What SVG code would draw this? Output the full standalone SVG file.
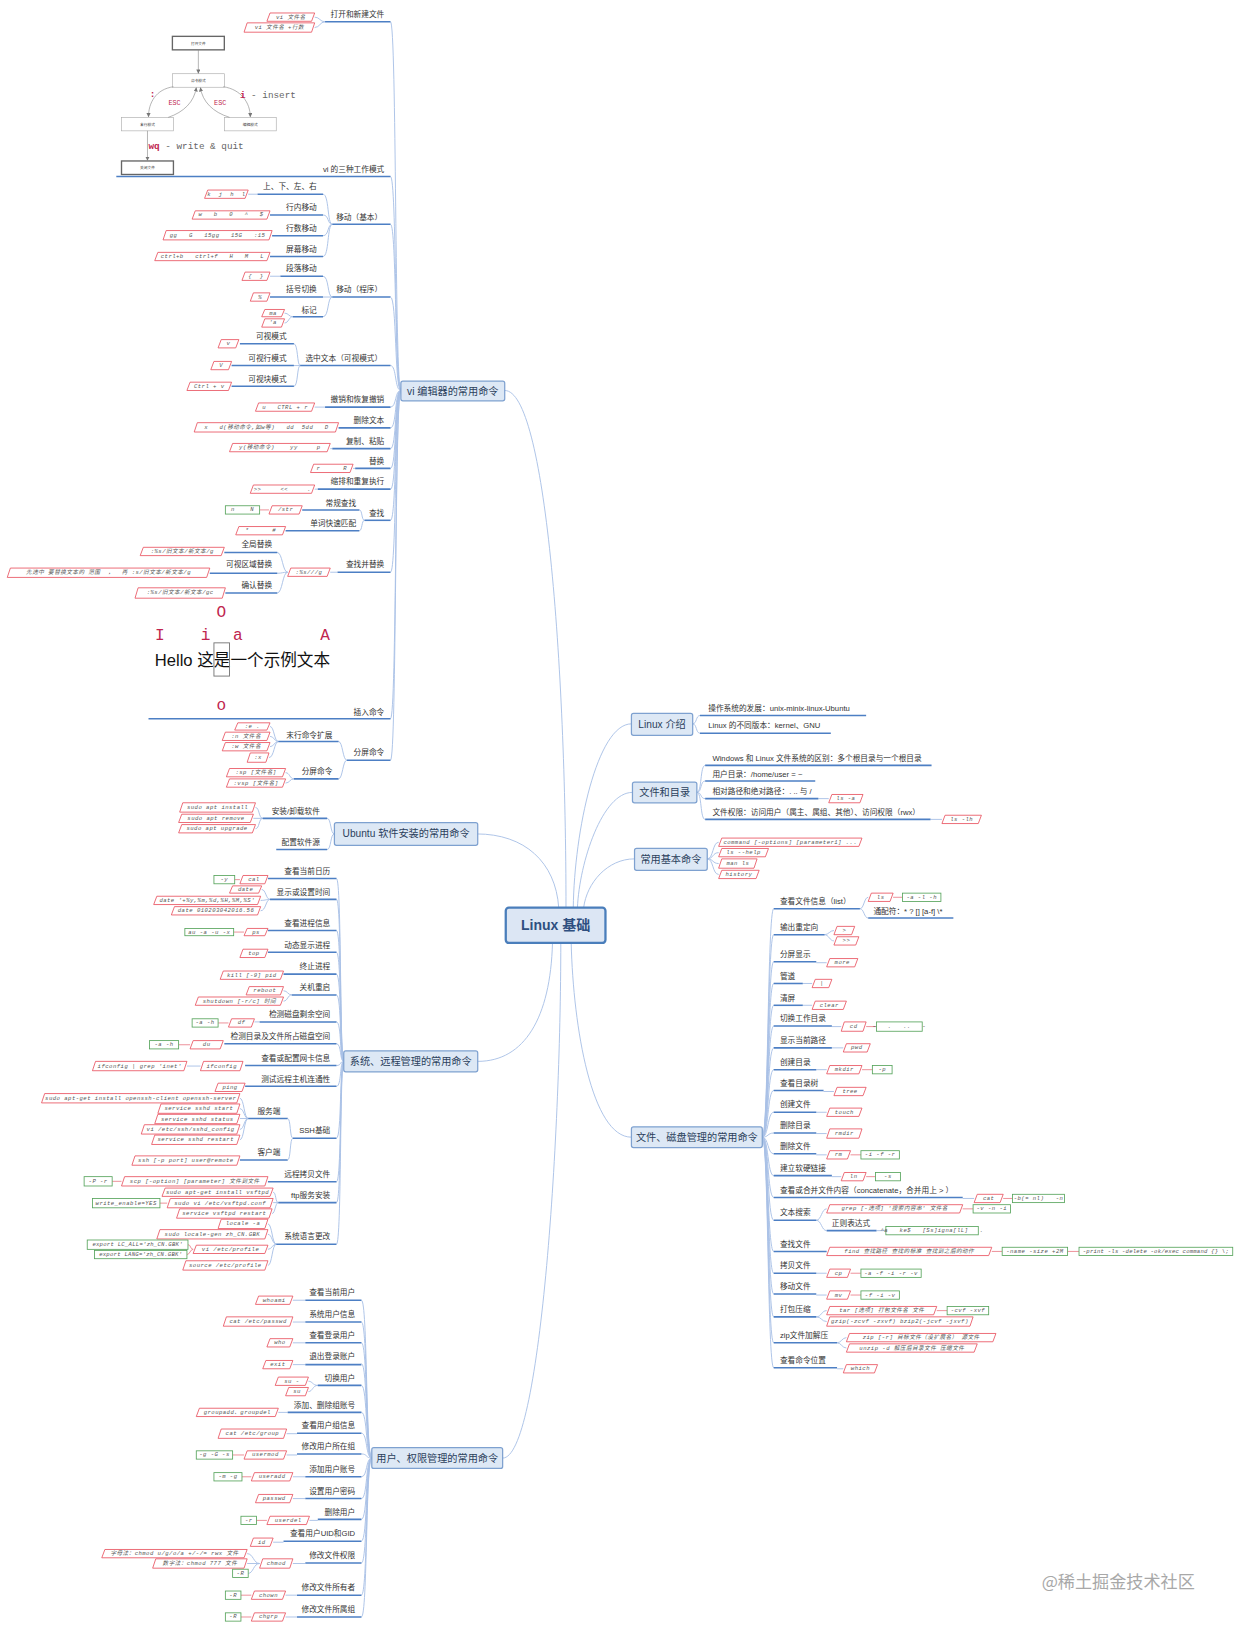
<svg xmlns="http://www.w3.org/2000/svg" width="1240" height="1629" viewBox="0 0 1240 1629" xml:space="preserve">
<defs>
<marker id="ah" markerWidth="4" markerHeight="4" refX="3.6" refY="2" orient="auto" markerUnits="userSpaceOnUse"><path d="M0,0 L4,2 L0,4 z" fill="#777"/></marker>
<style>
text{dominant-baseline:central}
.u{stroke:#4d7fc4;stroke-width:1.5;fill:none}
.c{stroke:#a9c1e6;stroke-width:0.9;fill:none}
.cr{stroke:#e97b86;stroke-width:0.8;fill:none}
.t{font-family:"Liberation Sans","Noto Sans CJK SC",sans-serif;font-size:7.4px;fill:#333}
.e{text-anchor:end}
.r{fill:#fff;stroke:#e8505d;stroke-width:0.8}
.g{fill:#fff;stroke:#55a35a;stroke-width:0.8}
.m{font-family:"Liberation Mono","Noto Sans CJK SC",monospace;font-style:italic;font-size:5.4px;letter-spacing:0.45px;fill:#555;text-anchor:middle;white-space:pre}
.b1{fill:#dde8f5;stroke:#7ea1d0;stroke-width:1.2}
.t1{font-family:"Liberation Sans","Noto Sans CJK SC",sans-serif;font-size:9.8px;fill:#2b3f5c;text-anchor:middle}
.mb{fill:#fff;stroke:#aaa;stroke-width:0.6}
.mbk{fill:#fff;stroke:#666;stroke-width:1.3}
.mt{font-family:"Noto Sans CJK SC",sans-serif;font-size:3.6px;fill:#333;text-anchor:middle}
.ma{stroke:#888;stroke-width:0.6;fill:none;marker-end:url(#ah)}
.cr1{font-family:"Liberation Mono",monospace;fill:#c0254f}
.gy{font-family:"Liberation Mono",monospace;fill:#666}
</style>
</defs>
<rect width="1240" height="1629" fill="#fff"/>
<g transform="scale(1.038526)">

<g id="connectors">
<path class="c" d="M486,376 C525,376 545,640 545,874"/>
<path class="c" d="M459,803 C505,803 535,830 538,874"/>
<path class="c" d="M608,697 C575,697 553,800 552,874"/>
<path class="c" d="M609,763 C580,763 558,830 556,874"/>
<path class="c" d="M611,827 C585,827 565,850 562,874"/>
<path class="c" d="M460,1022 C505,1022 530,980 532,908"/>
<path class="c" d="M484,1404 C520,1404 540,1100 540,908"/>
<path class="c" d="M608,1095 C570,1095 552,990 550,908"/>
<path class="c" d="M376,21 C382,21 380,376 386,376"/>
<path class="c" d="M376,170 C382,170 380,376 386,376"/>
<path class="c" d="M376,216 C382,216 380,376 386,376"/>
<path class="c" d="M376,286 C382,286 380,376 386,376"/>
<path class="c" d="M376,352 C382,352 380,376 386,376"/>
<path class="c" d="M376,392 C382,392 380,376 386,376"/>
<path class="c" d="M376,412 C382,412 380,376 386,376"/>
<path class="c" d="M376,432 C382,432 380,376 386,376"/>
<path class="c" d="M376,451 C382,451 380,376 386,376"/>
<path class="c" d="M376,471 C382,471 380,376 386,376"/>
<path class="c" d="M376,501 C382,501 380,376 386,376"/>
<path class="c" d="M376,551 C382,551 380,376 386,376"/>
<path class="c" d="M376,692 C382,692 380,376 386,376"/>
<path class="c" d="M376,732 C382,732 380,376 386,376"/>
<path class="c" d="M313,21 C308,21 308,16.5 303,16.5"/>
<path class="c" d="M313,21 C308,21 308,26.5 303,26.5"/>
<path class="c" d="M311,187 C317,187 315,216 320,216"/>
<path class="c" d="M311,207 C317,207 315,216 320,216"/>
<path class="c" d="M311,227 C317,227 315,216 320,216"/>
<path class="c" d="M311,247 C317,247 315,216 320,216"/>
<path class="c" d="M239,187 H248"/>
<path class="c" d="M311,266 C317,266 315,286 320,286"/>
<path class="c" d="M311,286 H320"/>
<path class="c" d="M311,305 C317,305 315,286 320,286"/>
<path class="c" d="M260,266 H270"/>
<path class="c" d="M282,305 C278,305 278,301.5 274,301.5"/>
<path class="c" d="M282,305 C278,305 278,311 274,311"/>
<path class="c" d="M283,331 C287,331 286,352 289,352"/>
<path class="c" d="M283,352 H289"/>
<path class="c" d="M283,372 C287,372 286,352 289,352"/>
<path class="c" d="M303,392 H313"/>
<path class="c" d="M318,432 H320"/>
<path class="c" d="M340,451 H342"/>
<path class="c" d="M303,471 H306"/>
<path class="c" d="M346,491 C349,491 348,501 351,501"/>
<path class="c" d="M346,511 C349,511 348,501 351,501"/>
<path class="cr" d="M250,491 H259"/>
<path class="c" d="M318,551 H325"/>
<path class="c" d="M277,551 C272,551 272,532 267,532"/>
<path class="c" d="M277,551 C272,551 272,552 267,552"/>
<path class="c" d="M277,551 C272,551 272,571 267,571"/>
<path class="c" d="M326,714 C330,714 330,732 334,732"/>
<path class="c" d="M326,750 C330,750 330,732 334,732"/>
<path class="c" d="M268,714 C264,714 264,699.5 260,699.5"/>
<path class="c" d="M268,714 C264,714 264,709 260,709"/>
<path class="c" d="M268,714 C264,714 264,719 260,719"/>
<path class="c" d="M268,714 C264,714 264,729.5 259,729.5"/>
<path class="c" d="M283,750 C279,750 279,744 275,744"/>
<path class="c" d="M283,750 C279,750 279,754 275,754"/>
<path class="c" d="M315,788 C319,788 318,803 322,803"/>
<path class="c" d="M315,818 C319,818 318,803 322,803"/>
<path class="c" d="M253,788 C249,788 250,777.5 246,777.5"/>
<path class="c" d="M253,788 H244"/>
<path class="c" d="M253,788 C249,788 250,798 246,798"/>
<path class="c" d="M324,846 C329,846 327,1022 331,1022"/>
<path class="c" d="M324,866 C329,866 327,1022 331,1022"/>
<path class="c" d="M324,896 C329,896 327,1022 331,1022"/>
<path class="c" d="M324,917 C329,917 327,1022 331,1022"/>
<path class="c" d="M324,938 C329,938 327,1022 331,1022"/>
<path class="c" d="M324,958 C329,958 327,1022 331,1022"/>
<path class="c" d="M324,984 C329,984 327,1022 331,1022"/>
<path class="c" d="M324,1005 C329,1005 327,1022 331,1022"/>
<path class="c" d="M324,1026 C329,1026 327,1022 331,1022"/>
<path class="c" d="M324,1046 C329,1046 327,1022 331,1022"/>
<path class="c" d="M324,1096 C329,1096 327,1022 331,1022"/>
<path class="c" d="M324,1138 C329,1138 327,1022 331,1022"/>
<path class="c" d="M324,1158 C329,1158 327,1022 331,1022"/>
<path class="c" d="M324,1198 C329,1198 327,1022 331,1022"/>
<path class="cr" d="M226,847 H231"/>
<path class="c" d="M260,866 C256,866 256,856.5 252,856.5"/>
<path class="c" d="M260,866 C256,866 256,867 251,867"/>
<path class="c" d="M260,866 C256,866 256,877 251,877"/>
<path class="cr" d="M225,897.5 H235"/>
<path class="c" d="M281,958 C277,958 277,954 273,954"/>
<path class="c" d="M281,958 C277,958 277,964 273,964"/>
<path class="c" d="M245,984 H250"/>
<path class="cr" d="M210,985 H220"/>
<path class="cr" d="M172,1006 H183"/>
<path class="c" d="M180,1026.5 H193"/>
<path class="c" d="M277,1077 C280,1077 279,1096 282,1096"/>
<path class="c" d="M277,1117 C280,1117 279,1096 282,1096"/>
<path class="c" d="M239,1077 C235,1077 235,1057.5 231,1057.5"/>
<path class="c" d="M239,1077 C235,1077 235,1067.5 231,1067.5"/>
<path class="c" d="M239,1077 H231"/>
<path class="c" d="M239,1077 C235,1077 235,1087.5 231,1087.5"/>
<path class="c" d="M239,1077 C235,1077 235,1097.5 231,1097.5"/>
<path class="cr" d="M108,1137.5 H117"/>
<path class="c" d="M268,1158 C265,1158 266,1148 263,1148"/>
<path class="c" d="M268,1158 H263"/>
<path class="c" d="M268,1158 C265,1158 265,1168.5 262,1168.5"/>
<path class="cr" d="M154,1158.5 H161"/>
<path class="c" d="M266,1198 C262,1198 262,1178.5 258,1178.5"/>
<path class="c" d="M266,1198 C262,1198 262,1188.5 258,1188.5"/>
<path class="c" d="M266,1198 C262,1198 262,1203 258,1203"/>
<path class="c" d="M266,1198 C262,1198 262,1218.5 258,1218.5"/>
<path class="cr" d="M186,1203 C183,1203 184,1198.5 181,1198.5"/>
<path class="cr" d="M186,1203 C183,1203 183,1208 180,1208"/>
<path class="c" d="M348,1252 C354,1252 352,1404 358,1404"/>
<path class="c" d="M348,1273 C354,1273 352,1404 358,1404"/>
<path class="c" d="M348,1293 C354,1293 352,1404 358,1404"/>
<path class="c" d="M348,1313 C354,1313 352,1404 358,1404"/>
<path class="c" d="M348,1334 C354,1334 352,1404 358,1404"/>
<path class="c" d="M348,1360 C354,1360 352,1404 358,1404"/>
<path class="c" d="M348,1380 C354,1380 352,1404 358,1404"/>
<path class="c" d="M348,1400 C354,1400 352,1404 358,1404"/>
<path class="c" d="M348,1422 C354,1422 352,1404 358,1404"/>
<path class="c" d="M348,1443 C354,1443 352,1404 358,1404"/>
<path class="c" d="M348,1463 C354,1463 352,1404 358,1404"/>
<path class="c" d="M348,1484 C354,1484 352,1404 358,1404"/>
<path class="c" d="M348,1505 C354,1505 352,1404 358,1404"/>
<path class="c" d="M348,1536 C354,1536 352,1404 358,1404"/>
<path class="c" d="M348,1557 C354,1557 352,1404 358,1404"/>
<path class="c" d="M282,1252 H294"/>
<path class="c" d="M282,1273 H294"/>
<path class="c" d="M282,1293 H294"/>
<path class="c" d="M282,1314 H294"/>
<path class="c" d="M306,1334 C301,1334 301,1330 297,1330"/>
<path class="c" d="M306,1334 C301,1334 301,1340 297,1340"/>
<path class="c" d="M268,1360 H277"/>
<path class="c" d="M276,1380.5 H286"/>
<path class="c" d="M276,1401 H286"/>
<path class="cr" d="M224,1401 H235"/>
<path class="c" d="M282,1422 H294"/>
<path class="cr" d="M233,1422 H242"/>
<path class="c" d="M282,1443 H294"/>
<path class="c" d="M298,1464 H306"/>
<path class="cr" d="M247,1464 H257"/>
<path class="c" d="M263,1485 H273"/>
<path class="c" d="M282,1505.5 H294"/>
<path class="c" d="M250,1505.5 C244,1505.5 244,1496 238,1496"/>
<path class="c" d="M250,1505.5 H238"/>
<path class="c" d="M250,1505.5 C244,1505.5 244,1515 239,1515"/>
<path class="c" d="M275,1536 H286"/>
<path class="cr" d="M232,1536 H242"/>
<path class="c" d="M275,1557 H286"/>
<path class="cr" d="M232,1557 H242"/>
<path class="c" d="M667,697 C671,697 670,689 674,689"/>
<path class="c" d="M667,697 C671,697 670,706 674,706"/>
<path class="c" d="M671,763 C676,763 674,737 679,737"/>
<path class="c" d="M671,763 C676,763 674,752 679,752"/>
<path class="c" d="M671,763 C676,763 674,769 679,769"/>
<path class="c" d="M671,763 C676,763 674,789 679,789"/>
<path class="c" d="M788,769 H798"/>
<path class="c" d="M896,789 H907"/>
<path class="c" d="M681,827 C687,827 686,811 692,811"/>
<path class="c" d="M681,827 C687,827 686,821 692,821"/>
<path class="c" d="M681,827 C687,827 686,831.5 692,831.5"/>
<path class="c" d="M681,827 C687,827 686,842 692,842"/>
<path class="c" d="M734,1095 C740,1095 739,875 745,875"/>
<path class="c" d="M734,1095 C740,1095 739,900 745,900"/>
<path class="c" d="M734,1095 C740,1095 739,926 745,926"/>
<path class="c" d="M734,1095 C740,1095 739,947 745,947"/>
<path class="c" d="M734,1095 C740,1095 739,968 745,968"/>
<path class="c" d="M734,1095 C740,1095 739,988 745,988"/>
<path class="c" d="M734,1095 C740,1095 739,1009 745,1009"/>
<path class="c" d="M734,1095 C740,1095 739,1030 745,1030"/>
<path class="c" d="M734,1095 C740,1095 739,1050 745,1050"/>
<path class="c" d="M734,1095 C740,1095 739,1071 745,1071"/>
<path class="c" d="M734,1095 C740,1095 739,1091 745,1091"/>
<path class="c" d="M734,1095 C740,1095 739,1111 745,1111"/>
<path class="c" d="M734,1095 C740,1095 739,1132 745,1132"/>
<path class="c" d="M734,1095 C740,1095 739,1153 745,1153"/>
<path class="c" d="M734,1095 C740,1095 739,1175 745,1175"/>
<path class="c" d="M734,1095 C740,1095 739,1205 745,1205"/>
<path class="c" d="M734,1095 C740,1095 739,1226 745,1226"/>
<path class="c" d="M734,1095 C740,1095 739,1246 745,1246"/>
<path class="c" d="M734,1095 C740,1095 739,1268 745,1268"/>
<path class="c" d="M734,1095 C740,1095 739,1293 745,1293"/>
<path class="c" d="M734,1095 C740,1095 739,1317 745,1317"/>
<path class="c" d="M828,875 C832,875 832,864 836,864"/>
<path class="c" d="M828,875 C832,875 832,884 836,884"/>
<path class="cr" d="M860,864 H869"/>
<path class="c" d="M794,900 C798,900 799,896 803,896"/>
<path class="c" d="M794,900 C798,900 799,906 803,906"/>
<path class="c" d="M786,927 H796"/>
<path class="c" d="M773,947 H782"/>
<path class="c" d="M773,968 H782"/>
<path class="c" d="M801,988.5 H810"/>
<path class="cr" d="M834,988.5 H844"/>
<path class="c" d="M801,1009 H812"/>
<path class="c" d="M786,1030 H796"/>
<path class="cr" d="M830,1030 H840"/>
<path class="c" d="M793,1051 H803"/>
<path class="c" d="M786,1071 H796"/>
<path class="c" d="M786,1091.5 H796"/>
<path class="c" d="M786,1112 H796"/>
<path class="cr" d="M819,1112 H829"/>
<path class="c" d="M801,1133 H810"/>
<path class="cr" d="M834,1133 H843"/>
<path class="c" d="M927,1154 H938"/>
<path class="cr" d="M966,1154 H975"/>
<path class="c" d="M786,1175 C791,1175 791,1164 796,1164"/>
<path class="c" d="M786,1175 C791,1175 791,1185 796,1185"/>
<path class="cr" d="M927,1164 H937"/>
<path class="c" d="M844,1185 H853"/>
<path class="cr" d="M955,1205 H965"/>
<path class="cr" d="M1028,1205 H1039"/>
<path class="c" d="M786,1226 H796"/>
<path class="cr" d="M819,1226 H829"/>
<path class="c" d="M786,1247 H796"/>
<path class="cr" d="M819,1247 H829"/>
<path class="c" d="M786,1268 C791,1268 791,1262 796,1262"/>
<path class="c" d="M786,1268 C791,1268 791,1272.5 796,1272.5"/>
<path class="cr" d="M902,1262 H912"/>
<path class="c" d="M806,1293 C810,1293 811,1288 815,1288"/>
<path class="c" d="M806,1293 C810,1293 811,1298 815,1298"/>
<path class="c" d="M806,1318 H812"/>
</g>

<g id="center"><rect x="487" y="874" width="96" height="34" rx="3" fill="#dce6f4" stroke="#4a7ebb" stroke-width="2.2"/><text x="535" y="891" text-anchor="middle" font-family="Liberation Sans,Noto Sans CJK SC,sans-serif" font-size="13.5" font-weight="bold" fill="#2e4f80">Linux 基础</text></g>
<g id="n-vi"><rect class="b1" x="386" y="367" width="100" height="19" rx="2"/><text class="t1" x="436" y="377">vi 编辑器的常用命令</text></g>
<g id="n-ubuntu"><rect class="b1" x="322" y="792" width="138" height="22" rx="2"/><text class="t1" x="391" y="803">Ubuntu 软件安装的常用命令</text></g>
<g id="n-system"><rect class="b1" x="331" y="1012" width="129" height="20" rx="2"/><text class="t1" x="395.5" y="1022">系统、远程管理的常用命令</text></g>
<g id="n-user"><rect class="b1" x="358" y="1394" width="126" height="20" rx="2"/><text class="t1" x="421" y="1404">用户、权限管理的常用命令</text></g>
<g id="n-intro"><rect class="b1" x="608" y="687" width="59" height="21" rx="2"/><text class="t1" x="637.5" y="697.5">Linux 介绍</text></g>
<g id="n-dirs"><rect class="b1" x="609" y="753" width="62" height="20" rx="2"/><text class="t1" x="640" y="763">文件和目录</text></g>
<g id="n-basic"><rect class="b1" x="611" y="817" width="70" height="21" rx="2"/><text class="t1" x="646" y="827.5">常用基本命令</text></g>
<g id="n-files"><rect class="b1" x="608" y="1085" width="126" height="20" rx="2"/><text class="t1" x="671" y="1095">文件、磁盘管理的常用命令</text></g>

<g id="vi-open"><path class="u" d="M313,21 H376"/><text class="t e" x="370" y="14">打开和新建文件</text></g>
<g id="r1"><polygon class="r" points="260,12.5 303,12.5 300,20.5 257,20.5"/><text class="m" x="280" y="16.5">vi 文件名</text></g>
<g id="r2"><polygon class="r" points="238,22 303,22 300,31 235,31"/><text class="m" x="269" y="26.5">vi 文件名 +行数</text></g>

<g id="vi-modes"><path class="u" d="M112,170 H376"/><text class="t e" x="370" y="163">vi 的三种工作模式</text></g>
<g id="mode-diagram">
<rect class="mbk" x="166" y="35" width="50" height="13"/><text class="mt" x="191" y="41.5">打开文件</text>
<rect class="mb" x="166" y="71" width="50" height="13"/><text class="mt" x="191" y="77.5">命令模式</text>
<rect class="mb" x="117" y="113" width="50" height="13"/><text class="mt" x="142" y="119.5">末行模式</text>
<rect class="mb" x="216" y="113" width="50" height="13"/><text class="mt" x="241" y="119.5">编辑模式</text>
<rect class="mbk" x="117" y="155" width="50" height="13"/><text class="mt" x="142" y="161.5">关闭文件</text>
<path class="ma" d="M191,48 V70.5"/>
<path class="ma" d="M167,83.5 C150,86 143,99 143,112.5"/>
<path class="ma" d="M162,113 C177,108 187,98 189,84.5"/>
<path class="ma" d="M221,113 C205,108 195,98 193,84.5"/>
<path class="ma" d="M215,83.5 C232,86 241,99 241,112.5"/>
<path class="ma" d="M142,126 V154.5"/>
<text class="cr1" x="147" y="91" font-size="9" font-weight="bold" text-anchor="middle">:</text>
<text class="cr1" x="168" y="99" font-size="6.5" text-anchor="middle">ESC</text>
<text class="cr1" x="212" y="99" font-size="6.5" text-anchor="middle">ESC</text>
<text x="231" y="91" font-size="9"><tspan class="cr1" font-weight="bold">i</tspan><tspan class="gy"> - insert</tspan></text>
<text x="143" y="141" font-size="9"><tspan class="cr1" font-weight="bold">wq</tspan><tspan class="gy"> - write &amp; quit</tspan></text>
</g>

<g id="vi-move"><path class="u" d="M320,216 H376"/><text class="t e" x="368" y="209">移动（基本）</text></g>
<g id="vi-udlr"><path class="u" d="M248,187 H311"/><text class="t e" x="305" y="180">上、下、左、右</text></g>
<g id="r3"><polygon class="r" points="200,183 239,183 236,191 197,191"/><text class="m" x="218" y="187">k  j  h  l</text></g>
<g id="vi-inline"><path class="u" d="M260,207 H311"/><text class="t e" x="305" y="200">行内移动</text></g>
<g id="r4"><polygon class="r" points="188,203 260,203 257,211 185,211"/><text class="m" x="222.5" y="207">w   b   0   ^   $</text></g>
<g id="vi-lines"><path class="u" d="M262,227 H311"/><text class="t e" x="305" y="220">行数移动</text></g>
<g id="r5"><polygon class="r" points="160,222 262,222 259,231 157,231"/><text class="m" x="209.5" y="226.5">gg   G   15gg   15G   :15</text></g>
<g id="vi-screen"><path class="u" d="M260,247 H311"/><text class="t e" x="305" y="240">屏幕移动</text></g>
<g id="r6"><polygon class="r" points="152,243 260,243 257,251 149,251"/><text class="m" x="204.5" y="247">ctrl+b   ctrl+f   H   M   L</text></g>

<g id="vi-prog"><path class="u" d="M320,286 H376"/><text class="t e" x="368" y="279">移动（程序）</text></g>
<g id="vi-para"><path class="u" d="M270,266 H311"/><text class="t e" x="305" y="259">段落移动</text></g>
<g id="r7"><polygon class="r" points="236,262 260,262 257,270 233,270"/><text class="m" x="246.5" y="266">{  }</text></g>
<g id="vi-bracket"><path class="u" d="M260,286 H311"/><text class="t e" x="305" y="279">括号切换</text></g>
<g id="r8"><polygon class="r" points="244,282 260,282 257,290 241,290"/><text class="m" x="250.5" y="286">%</text></g>
<g id="vi-mark"><path class="u" d="M282,305 H311"/><text class="t e" x="305" y="299">标记</text></g>
<g id="r9"><polygon class="r" points="255,298 274,298 271,305 252,305"/><text class="m" x="263" y="301.5">ma</text></g>
<g id="r10"><polygon class="r" points="255,307 274,307 271,315 252,315"/><text class="m" x="263" y="311">'a</text></g>

<g id="vi-select"><path class="u" d="M289,352 H376"/><text class="t e" x="368" y="345">选中文本（可视模式）</text></g>
<g id="vi-visual"><path class="u" d="M231,331 H283"/><text class="t e" x="276" y="324">可视模式</text></g>
<g id="r11"><polygon class="r" points="213,327 230,327 227,335 210,335"/><text class="m" x="220" y="331">v</text></g>
<g id="vi-vline"><path class="u" d="M223,352 H283"/><text class="t e" x="276" y="345">可视行模式</text></g>
<g id="r12"><polygon class="r" points="206,348 223,348 220,356 203,356"/><text class="m" x="213" y="352">V</text></g>
<g id="vi-vblock"><path class="u" d="M223,372 H283"/><text class="t e" x="276" y="365">可视块模式</text></g>
<g id="r13"><polygon class="r" points="183,368 223,368 220,376 180,376"/><text class="m" x="201.5" y="372">Ctrl + v</text></g>

<g id="vi-undo"><path class="u" d="M313,392 H376"/><text class="t e" x="370" y="385">撤销和恢复撤销</text></g>
<g id="r14"><polygon class="r" points="249,388 303,388 300,396 246,396"/><text class="m" x="274.5" y="392">u   CTRL + r</text></g>
<g id="vi-del"><path class="u" d="M326,412 H376"/><text class="t e" x="370" y="405">删除文本</text></g>
<g id="r15"><polygon class="r" points="190,407 326,407 323,416 187,416"/><text class="m" x="256.5" y="411.5">x   d(移动命令,如w等)   dd  5dd   D</text></g>
<g id="vi-copy"><path class="u" d="M320,432 H376"/><text class="t e" x="370" y="425">复制、粘贴</text></g>
<g id="r16"><polygon class="r" points="224,427 318,427 315,435 221,435"/><text class="m" x="269.5" y="431">y(移动命令)    yy     p</text></g>
<g id="vi-replace"><path class="u" d="M342,451 H376"/><text class="t e" x="370" y="444">替换</text></g>
<g id="r17"><polygon class="r" points="302,447 340,447 337,455 299,455"/><text class="m" x="319.5" y="451">r      R</text></g>
<g id="vi-indent"><path class="u" d="M306,471 H376"/><text class="t e" x="370" y="464">缩排和重复执行</text></g>
<g id="r18"><polygon class="r" points="244,467 303,467 300,475 241,475"/><text class="m" x="272" y="471">&gt;&gt;     &lt;&lt;     .</text></g>

<g id="vi-find"><path class="u" d="M351,501 H376"/><text class="t e" x="370" y="494">查找</text></g>
<g id="vi-find-normal"><path class="u" d="M291,491 H346"/><text class="t e" x="343" y="485">常规查找</text></g>
<g id="r19"><polygon class="r" points="262,487 291,487 288,495 259,495"/><text class="m" x="275" y="491">/str</text></g>
<g id="g1"><rect class="g" x="217" y="487" width="33" height="8"/><text class="m" x="233.5" y="491">n    N</text></g>
<g id="vi-find-word"><path class="u" d="M275,511 H346"/><text class="t e" x="343" y="504">单词快速匹配</text></g>
<g id="r20"><polygon class="r" points="230,507 275,507 272,515 227,515"/><text class="m" x="251" y="511">*      #</text></g>

<g id="vi-subst"><path class="u" d="M325,551 H376"/><text class="t e" x="370" y="544">查找并替换</text></g>
<g id="r21"><polygon class="r" points="280,547 318,547 315,555 277,555"/><text class="m" x="297.5" y="551">:%s///g</text></g>
<g id="vi-subst-all"><path class="u" d="M216,532 H267"/><text class="t e" x="262" y="524">全局替换</text></g>
<g id="r22"><polygon class="r" points="138,527 216,527 213,535 135,535"/><text class="m" x="175.5" y="531">:%s/旧文本/新文本/g</text></g>
<g id="vi-subst-vis"><path class="u" d="M202,552 H267"/><text class="t e" x="262" y="544">可视区域替换</text></g>
<g id="r23"><polygon class="r" points="10,547 202,547 199,556 7,556"/><text class="m" x="104.5" y="551.5">先选中 要替换文本的 范围  ，  再 :s/旧文本/新文本/g</text></g>
<g id="vi-subst-conf"><path class="u" d="M217,571 H267"/><text class="t e" x="262" y="564">确认替换</text></g>
<g id="r24"><polygon class="r" points="133,566 217,566 214,576 130,576"/><text class="m" x="173.5" y="571">:%s/旧文本/新文本/gc</text></g>

<g id="vi-insert"><path class="u" d="M143,692 H376"/><text class="t e" x="370" y="686">插入命令</text></g>
<g id="insert-illustration">
<text class="cr1" x="213" y="590" font-size="15.5" text-anchor="middle">O</text>
<text class="cr1" x="154" y="612" font-size="15.5" text-anchor="middle">I</text>
<text class="cr1" x="198" y="612" font-size="15.5" text-anchor="middle">i</text>
<text class="cr1" x="229" y="612" font-size="15.5" text-anchor="middle">a</text>
<text class="cr1" x="313" y="612" font-size="15.5" text-anchor="middle">A</text>
<text x="149" y="636" font-family="Liberation Sans,Noto Sans CJK SC,sans-serif" font-size="16" fill="#111">Hello 这是一个示例文本</text>
<rect x="206" y="619" width="15" height="32" fill="none" stroke="#777" stroke-width="0.9"/>
<text class="cr1" x="213" y="680" font-size="15.5" text-anchor="middle">o</text>
</g>

<g id="vi-split"><path class="u" d="M334,732 H376"/><text class="t e" x="370" y="725">分屏命令</text></g>
<g id="vi-lastline"><path class="u" d="M268,714 H326"/><text class="t e" x="320" y="708">末行命令扩展</text></g>
<g id="r25"><polygon class="r" points="229,696 260,696 257,703 226,703"/><text class="m" x="243" y="699.5">:e .</text></g>
<g id="r26"><polygon class="r" points="217,705 260,705 257,713 214,713"/><text class="m" x="237" y="709">:n 文件名</text></g>
<g id="r27"><polygon class="r" points="217,715 260,715 257,723 214,723"/><text class="m" x="237" y="719">:w 文件名</text></g>
<g id="r28"><polygon class="r" points="241,725 259,725 256,734 238,734"/><text class="m" x="248.5" y="729.5">:x</text></g>
<g id="vi-split2"><path class="u" d="M283,750 H326"/><text class="t e" x="320" y="743">分屏命令</text></g>
<g id="r29"><polygon class="r" points="221,740 275,740 272,748 218,748"/><text class="m" x="246.5" y="744">:sp [文件名]</text></g>
<g id="r30"><polygon class="r" points="221,750 275,750 272,758 218,758"/><text class="m" x="246.5" y="754">:vsp [文件名]</text></g>

<g id="ub-install"><path class="u" d="M253,788 H315"/><text class="t e" x="308" y="781">安装/卸载软件</text></g>
<g id="r31"><polygon class="r" points="176,773 246,773 243,782 173,782"/><text class="m" x="209.5" y="777.5">sudo apt install</text></g>
<g id="r32"><polygon class="r" points="175,784 244,784 241,792 172,792"/><text class="m" x="208" y="788">sudo apt remove</text></g>
<g id="r33"><polygon class="r" points="175,794 246,794 243,802 172,802"/><text class="m" x="209" y="798">sudo apt upgrade</text></g>
<g id="ub-source"><path class="u" d="M266,818 H315"/><text class="t e" x="308" y="811">配置软件源</text></g>

<g id="sys-cal"><path class="u" d="M258,846 H324"/><text class="t e" x="318" y="839">查看当前日历</text></g>
<g id="r34"><polygon class="r" points="234,843 258,843 255,851 231,851"/><text class="m" x="244.5" y="847">cal</text></g>
<g id="g2"><rect class="g" x="206" y="843" width="20" height="8"/><text class="m" x="216" y="847">-y</text></g>
<g id="sys-date"><path class="u" d="M260,866 H324"/><text class="t e" x="318" y="859">显示或设置时间</text></g>
<g id="r35"><polygon class="r" points="224,853 252,853 249,860 221,860"/><text class="m" x="236.5" y="856.5">date</text></g>
<g id="r36"><polygon class="r" points="151,863 251,863 248,871 148,871"/><text class="m" x="199.5" y="867">date '+%y,%m,%d,%H,%M,%S'</text></g>
<g id="r37"><polygon class="r" points="168,873 251,873 248,881 165,881"/><text class="m" x="208" y="877">date 010203042016.56</text></g>
<g id="sys-ps"><path class="u" d="M258,896 H324"/><text class="t e" x="318" y="889">查看进程信息</text></g>
<g id="r38"><polygon class="r" points="238,894 258,894 255,901 235,901"/><text class="m" x="246.5" y="897.5">ps</text></g>
<g id="g3"><rect class="g" x="178" y="894" width="47" height="7"/><text class="m" x="201.5" y="897.5">au -a -u -x</text></g>
<g id="sys-top"><path class="u" d="M258,917 H324"/><text class="t e" x="318" y="910">动态显示进程</text></g>
<g id="r39"><polygon class="r" points="234,914 258,914 255,922 231,922"/><text class="m" x="244.5" y="918">top</text></g>
<g id="sys-kill"><path class="u" d="M273,938 H324"/><text class="t e" x="318" y="931">终止进程</text></g>
<g id="r40"><polygon class="r" points="215,935 273,935 270,943 212,943"/><text class="m" x="242.5" y="939">kill [-9] pid</text></g>
<g id="sys-reboot"><path class="u" d="M281,958 H324"/><text class="t e" x="318" y="951">关机重启</text></g>
<g id="r41"><polygon class="r" points="240,950 273,950 270,958 237,958"/><text class="m" x="255" y="954">reboot</text></g>
<g id="r42"><polygon class="r" points="191,960 273,960 270,968 188,968"/><text class="m" x="230.5" y="964">shutdown [-r/c] 时间</text></g>
<g id="sys-df"><path class="u" d="M250,984 H324"/><text class="t e" x="318" y="977">检测磁盘剩余空间</text></g>
<g id="r43"><polygon class="r" points="223,981 245,981 242,989 220,989"/><text class="m" x="232.5" y="985">df</text></g>
<g id="g4"><rect class="g" x="185" y="981" width="25" height="8"/><text class="m" x="197.5" y="985">-a -h</text></g>
<g id="sys-du"><path class="u" d="M216,1005 H324"/><text class="t e" x="318" y="998">检测目录及文件所占磁盘空间</text></g>
<g id="r44"><polygon class="r" points="186,1002 215,1002 212,1010 183,1010"/><text class="m" x="199" y="1006">du</text></g>
<g id="g5"><rect class="g" x="144" y="1002" width="28" height="8"/><text class="m" x="158" y="1006">-a -h</text></g>
<g id="sys-net"><path class="u" d="M236,1026 H324"/><text class="t e" x="318" y="1019">查看或配置网卡信息</text></g>
<g id="r45"><polygon class="r" points="196,1022 234,1022 231,1031 193,1031"/><text class="m" x="213.5" y="1026.5">ifconfig</text></g>
<g id="r46"><polygon class="r" points="92,1022 180,1022 177,1031 89,1031"/><text class="m" x="134.5" y="1026.5">ifconfig | grep 'inet'</text></g>
<g id="sys-ping"><path class="u" d="M236,1046 H324"/><text class="t e" x="318" y="1039">测试远程主机连通性</text></g>
<g id="r47"><polygon class="r" points="210,1043 236,1043 233,1051 207,1051"/><text class="m" x="221.5" y="1047">ping</text></g>
<g id="sys-ssh"><path class="u" d="M282,1096 H324"/><text class="t e" x="318" y="1089">SSH基础</text></g>
<g id="sys-ssh-server"><path class="u" d="M239,1077 H277"/><text class="t e" x="270" y="1070">服务端</text></g>
<g id="r48"><polygon class="r" points="43,1053 231,1053 228,1062 40,1062"/><text class="m" x="135.5" y="1057.5">sudo apt-get install openssh-client openssh-server</text></g>
<g id="r49"><polygon class="r" points="155,1063 231,1063 228,1072 152,1072"/><text class="m" x="191.5" y="1067.5">service sshd start</text></g>
<g id="r50"><polygon class="r" points="152,1073 231,1073 228,1082 149,1082"/><text class="m" x="190" y="1077.5">service sshd status</text></g>
<g id="r51"><polygon class="r" points="139,1083 231,1083 228,1092 136,1092"/><text class="m" x="183.5" y="1087.5">vi /etc/ssh/sshd_config</text></g>
<g id="r52"><polygon class="r" points="149,1093 231,1093 228,1102 146,1102"/><text class="m" x="188.5" y="1097.5">service sshd restart</text></g>
<g id="sys-ssh-client"><path class="u" d="M231,1117 H277"/><text class="t e" x="270" y="1110">客户端</text></g>
<g id="r53"><polygon class="r" points="130,1113 231,1113 228,1122 127,1122"/><text class="m" x="179" y="1117.5">ssh [-p port] user@remote</text></g>
<g id="sys-scp"><path class="u" d="M258,1138 H324"/><text class="t e" x="318" y="1131">远程拷贝文件</text></g>
<g id="r54"><polygon class="r" points="120,1133 258,1133 255,1142 117,1142"/><text class="m" x="187.5" y="1137.5">scp [-option] [parameter] 文件到文件</text></g>
<g id="g6"><rect class="g" x="81" y="1133" width="27" height="9"/><text class="m" x="94.5" y="1137.5">-P -r</text></g>
<g id="sys-ftp"><path class="u" d="M268,1158 H324"/><text class="t e" x="318" y="1151">ftp服务安装</text></g>
<g id="r55"><polygon class="r" points="159,1144 263,1144 260,1152 156,1152"/><text class="m" x="209.5" y="1148">sudo apt-get install vsftpd</text></g>
<g id="r56"><polygon class="r" points="164,1154 263,1154 260,1163 161,1163"/><text class="m" x="212" y="1158.5">sudo vi /etc/vsftpd.conf</text></g>
<g id="g7"><rect class="g" x="89" y="1154" width="65" height="9"/><text class="m" x="121.5" y="1158.5">write_enable=YES</text></g>
<g id="r57"><polygon class="r" points="173,1164 262,1164 259,1173 170,1173"/><text class="m" x="216" y="1168.5">service vsftpd restart</text></g>
<g id="sys-lang"><path class="u" d="M266,1198 H324"/><text class="t e" x="318" y="1191">系统语言更改</text></g>
<g id="r58"><polygon class="r" points="213,1174 258,1174 255,1183 210,1183"/><text class="m" x="234" y="1178.5">locale -a</text></g>
<g id="r59"><polygon class="r" points="154,1184 258,1184 255,1193 151,1193"/><text class="m" x="204.5" y="1188.5">sudo locale-gen zh_CN.GBK</text></g>
<g id="r60"><polygon class="r" points="189,1199 258,1199 255,1207 186,1207"/><text class="m" x="222" y="1203">vi /etc/profile</text></g>
<g id="g8"><rect class="g" x="84" y="1194" width="97" height="9"/><text class="m" x="132.5" y="1198.5" style="letter-spacing:0.25px">export LC_ALL='zh_CN.GBK'</text></g>
<g id="g9"><rect class="g" x="91" y="1204" width="89" height="8"/><text class="m" x="135.5" y="1208" style="letter-spacing:0.25px">export LANG='zh_CN.GBK'</text></g>
<g id="r61"><polygon class="r" points="179,1214 258,1214 255,1223 176,1223"/><text class="m" x="217" y="1218.5">source /etc/profile</text></g>

<g id="us-whoami"><path class="u" d="M294,1252 H348"/><text class="t e" x="342" y="1245">查看当前用户</text></g>
<g id="r62"><polygon class="r" points="249,1248 282,1248 279,1256 246,1256"/><text class="m" x="264" y="1252">whoami</text></g>
<g id="us-passwd"><path class="u" d="M294,1273 H348"/><text class="t e" x="342" y="1266">系统用户信息</text></g>
<g id="r63"><polygon class="r" points="218,1268 282,1268 279,1277 215,1277"/><text class="m" x="248.5" y="1272.5">cat /etc/passwd</text></g>
<g id="us-who"><path class="u" d="M294,1293 H348"/><text class="t e" x="342" y="1286">查看登录用户</text></g>
<g id="r64"><polygon class="r" points="260,1289 282,1289 279,1297 257,1297"/><text class="m" x="269.5" y="1293">who</text></g>
<g id="us-exit"><path class="u" d="M294,1314 H348"/><text class="t e" x="342" y="1306">退出登录账户</text></g>
<g id="r65"><polygon class="r" points="256,1310 282,1310 279,1318 253,1318"/><text class="m" x="267.5" y="1314">exit</text></g>
<g id="us-su"><path class="u" d="M306,1334 H348"/><text class="t e" x="342" y="1327">切换用户</text></g>
<g id="r66"><polygon class="r" points="268,1326 297,1326 294,1334 265,1334"/><text class="m" x="281" y="1330">su -</text></g>
<g id="r67"><polygon class="r" points="278,1336 297,1336 294,1344 275,1344"/><text class="m" x="286" y="1340">su</text></g>
<g id="us-group"><path class="u" d="M277,1360 H348"/><text class="t e" x="342" y="1353">添加、删除组账号</text></g>
<g id="r68"><polygon class="r" points="192,1356 268,1356 265,1364 189,1364"/><text class="m" x="228.5" y="1360">groupadd、groupdel</text></g>
<g id="us-groupinfo"><path class="u" d="M286,1380 H348"/><text class="t e" x="342" y="1373">查看用户组信息</text></g>
<g id="r69"><polygon class="r" points="213,1376 276,1376 273,1385 210,1385"/><text class="m" x="243" y="1380.5">cat /etc/group</text></g>
<g id="us-usermod"><path class="u" d="M286,1400 H348"/><text class="t e" x="342" y="1393">修改用户所在组</text></g>
<g id="r70"><polygon class="r" points="238,1397 276,1397 273,1405 235,1405"/><text class="m" x="255.5" y="1401">usermod</text></g>
<g id="g10"><rect class="g" x="189" y="1397" width="35" height="8"/><text class="m" x="206.5" y="1401">-g -G -s</text></g>
<g id="us-useradd"><path class="u" d="M294,1422 H348"/><text class="t e" x="342" y="1415">添加用户账号</text></g>
<g id="r71"><polygon class="r" points="245,1418 282,1418 279,1426 242,1426"/><text class="m" x="262" y="1422">useradd</text></g>
<g id="g11"><rect class="g" x="206" y="1418" width="27" height="8"/><text class="m" x="219.5" y="1422">-m -g</text></g>
<g id="us-pass"><path class="u" d="M294,1443 H348"/><text class="t e" x="342" y="1436">设置用户密码</text></g>
<g id="r72"><polygon class="r" points="249,1439 282,1439 279,1447 246,1447"/><text class="m" x="264" y="1443">passwd</text></g>
<g id="us-userdel"><path class="u" d="M306,1463 H348"/><text class="t e" x="342" y="1456">删除用户</text></g>
<g id="r73"><polygon class="r" points="260,1460 298,1460 295,1468 257,1468"/><text class="m" x="277.5" y="1464">userdel</text></g>
<g id="g12"><rect class="g" x="232" y="1460" width="15" height="8"/><text class="m" x="239.5" y="1464">-r</text></g>
<g id="us-id"><path class="u" d="M273,1484 H348"/><text class="t e" x="342" y="1477">查看用户UID和GID</text></g>
<g id="r74"><polygon class="r" points="244,1481 263,1481 260,1489 241,1489"/><text class="m" x="252" y="1485">id</text></g>
<g id="us-chmod"><path class="u" d="M294,1505 H348"/><text class="t e" x="342" y="1498">修改文件权限</text></g>
<g id="r75"><polygon class="r" points="253,1501 282,1501 279,1510 250,1510"/><text class="m" x="266" y="1505.5">chmod</text></g>
<g id="r76"><polygon class="r" points="101,1492 238,1492 235,1500 98,1500"/><text class="m" x="168" y="1496">字母法：chmod u/g/o/a +/-/= rwx 文件</text></g>
<g id="r77"><polygon class="r" points="150,1501 238,1501 235,1510 147,1510"/><text class="m" x="192.5" y="1505.5">数字法：chmod 777 文件</text></g>
<g id="g13"><rect class="g" x="224" y="1511" width="15" height="8"/><text class="m" x="231.5" y="1515">-R</text></g>
<g id="us-chown"><path class="u" d="M286,1536 H348"/><text class="t e" x="342" y="1529">修改文件所有者</text></g>
<g id="r78"><polygon class="r" points="245,1532 275,1532 272,1540 242,1540"/><text class="m" x="258.5" y="1536">chown</text></g>
<g id="g14"><rect class="g" x="217" y="1532" width="15" height="8"/><text class="m" x="224.5" y="1536">-R</text></g>
<g id="us-chgrp"><path class="u" d="M286,1557 H348"/><text class="t e" x="342" y="1550">修改文件所属组</text></g>
<g id="r79"><polygon class="r" points="245,1553 275,1553 272,1561 242,1561"/><text class="m" x="258.5" y="1557">chgrp</text></g>
<g id="g15"><rect class="g" x="217" y="1553" width="15" height="8"/><text class="m" x="224.5" y="1557">-R</text></g>

<g id="in-dev"><path class="u" d="M674,689 H834"/><text class="t" x="682" y="682">操作系统的发展：unix-minix-linux-Ubuntu</text></g>
<g id="in-ver"><path class="u" d="M674,706 H800"/><text class="t" x="682" y="698.5">Linux 的不同版本：kernel、GNU</text></g>
<g id="di-fs"><path class="u" d="M679,737 H897"/><text class="t" x="686" y="730">Windows 和 Linux 文件系统的区别：多个根目录与一个根目录</text></g>
<g id="di-home"><path class="u" d="M679,752 H785"/><text class="t" x="686" y="745.5">用户目录：/home/user = ~</text></g>
<g id="di-path"><path class="u" d="M679,769 H788"/><text class="t" x="686" y="762">相对路径和绝对路径：. .. 与 /</text></g>
<g id="r80"><polygon class="r" points="801,765 831,765 828,773 798,773"/><text class="m" x="814.5" y="769">ls -a</text></g>
<g id="di-perm"><path class="u" d="M679,789 H896"/><text class="t" x="686" y="782">文件权限：访问用户（属主、属组、其他）、访问权限（rwx）</text></g>
<g id="r81"><polygon class="r" points="910,785 945,785 942,793 907,793"/><text class="m" x="926" y="789">ls -lh</text></g>
<g id="r82"><polygon class="r" points="695,807 830,807 827,815 692,815"/><text class="m" x="761" y="811">command [-options] [parameter1] ...</text></g>
<g id="r83"><polygon class="r" points="695,817 740,817 737,825 692,825"/><text class="m" x="716" y="821">ls --help</text></g>
<g id="r84"><polygon class="r" points="695,827 729,827 726,836 692,836"/><text class="m" x="710.5" y="831.5">man ls</text></g>
<g id="r85"><polygon class="r" points="695,838 731,838 728,846 692,846"/><text class="m" x="711.5" y="842">history</text></g>

<g id="fd-list"><path class="u" d="M745,875 H828"/><text class="t" x="751" y="868">查看文件信息（list）</text></g>
<g id="r86"><polygon class="r" points="839,860 860,860 857,868 836,868"/><text class="m" x="848" y="864">ls</text></g>
<g id="g16"><rect class="g" x="869" y="860" width="37" height="8"/><text class="m" x="887.5" y="864">-a -l -h</text></g>
<g id="fd-wild"><path class="u" d="M836,884 H918"/><text class="t" x="841" y="877.5">通配符：* ? [] [a-f] \*</text></g>
<g id="fd-redir"><path class="u" d="M745,900 H794"/><text class="t" x="751" y="893">输出重定向</text></g>
<g id="r87"><polygon class="r" points="806,892 823,892 820,900 803,900"/><text class="m" x="813" y="896">&gt;</text></g>
<g id="r88"><polygon class="r" points="806,902 827,902 824,910 803,910"/><text class="m" x="815" y="906">&gt;&gt;</text></g>
<g id="fd-more"><path class="u" d="M745,926 H786"/><text class="t" x="751" y="919">分屏显示</text></g>
<g id="r89"><polygon class="r" points="799,923 826,923 823,931 796,931"/><text class="m" x="811" y="927">more</text></g>
<g id="fd-pipe"><path class="u" d="M745,947 H773"/><text class="t" x="751" y="940">管道</text></g>
<g id="r90"><polygon class="r" points="785,943 801,943 798,951 782,951"/><text class="m" x="791.5" y="947">|</text></g>
<g id="fd-clear"><path class="u" d="M745,968 H773"/><text class="t" x="751" y="961">清屏</text></g>
<g id="r91"><polygon class="r" points="785,964 815,964 812,972 782,972"/><text class="m" x="798.5" y="968">clear</text></g>
<g id="fd-cd"><path class="u" d="M745,988 H801"/><text class="t" x="751" y="981">切换工作目录</text></g>
<g id="r92"><polygon class="r" points="813,984 834,984 831,993 810,993"/><text class="m" x="822" y="988.5">cd</text></g>
<g id="g17"><rect class="g" x="844" y="984" width="44" height="9"/><text class="m" x="866" y="988.5">~   .   ..   -</text></g>
<g id="fd-pwd"><path class="u" d="M745,1009 H801"/><text class="t" x="751" y="1002">显示当前路径</text></g>
<g id="r93"><polygon class="r" points="815,1005 838,1005 835,1013 812,1013"/><text class="m" x="825" y="1009">pwd</text></g>
<g id="fd-mkdir"><path class="u" d="M745,1030 H786"/><text class="t" x="751" y="1023">创建目录</text></g>
<g id="r94"><polygon class="r" points="799,1026 830,1026 827,1034 796,1034"/><text class="m" x="813" y="1030">mkdir</text></g>
<g id="g18"><rect class="g" x="840" y="1026" width="19" height="8"/><text class="m" x="849.5" y="1030">-p</text></g>
<g id="fd-tree"><path class="u" d="M745,1050 H793"/><text class="t" x="751" y="1043">查看目录树</text></g>
<g id="r95"><polygon class="r" points="806,1047 834,1047 831,1055 803,1055"/><text class="m" x="818.5" y="1051">tree</text></g>
<g id="fd-touch"><path class="u" d="M745,1071 H786"/><text class="t" x="751" y="1064">创建文件</text></g>
<g id="r96"><polygon class="r" points="799,1067 830,1067 827,1075 796,1075"/><text class="m" x="813" y="1071">touch</text></g>
<g id="fd-rmdir"><path class="u" d="M745,1091 H786"/><text class="t" x="751" y="1084">删除目录</text></g>
<g id="r97"><polygon class="r" points="799,1087 830,1087 827,1096 796,1096"/><text class="m" x="813" y="1091.5">rmdir</text></g>
<g id="fd-rm"><path class="u" d="M745,1111 H786"/><text class="t" x="751" y="1104">删除文件</text></g>
<g id="r98"><polygon class="r" points="799,1108 819,1108 816,1116 796,1116"/><text class="m" x="807.5" y="1112">rm</text></g>
<g id="g19"><rect class="g" x="829" y="1108" width="37" height="8"/><text class="m" x="847.5" y="1112">-i -f -r</text></g>
<g id="fd-ln"><path class="u" d="M745,1132 H801"/><text class="t" x="751" y="1125">建立软硬链接</text></g>
<g id="r99"><polygon class="r" points="813,1129 834,1129 831,1137 810,1137"/><text class="m" x="822" y="1133">ln</text></g>
<g id="g20"><rect class="g" x="843" y="1129" width="24" height="8"/><text class="m" x="855" y="1133">-s</text></g>
<g id="fd-cat"><path class="u" d="M745,1153 H927"/><text class="t" x="751" y="1146">查看或合并文件内容（concatenate，合并用上 &gt; ）</text></g>
<g id="r100"><polygon class="r" points="941,1150 966,1150 963,1158 938,1158"/><text class="m" x="952" y="1154">cat</text></g>
<g id="g21"><rect class="g" x="975" y="1150" width="50" height="8"/><text class="m" x="1000" y="1154">-b(= nl)   -n</text></g>
<g id="fd-grep"><path class="u" d="M745,1175 H786"/><text class="t" x="751" y="1168">文本搜索</text></g>
<g id="r101"><polygon class="r" points="799,1160 927,1160 924,1168 796,1168"/><text class="m" x="861.5" y="1164">grep [-选项] '搜索内容串' 文件名</text></g>
<g id="g22"><rect class="g" x="937" y="1160" width="36" height="8"/><text class="m" x="955" y="1164">-v -n -i</text></g>
<g id="fd-regex"><path class="u" d="M796,1185 H844"/><text class="t" x="801" y="1178.5">正则表达式</text></g>
<g id="g23"><rect class="g" x="853" y="1181" width="89" height="8"/><text class="m" x="897.5" y="1185">^a   ke$   [Ss]igna[lL]   .</text></g>
<g id="fd-find"><path class="u" d="M745,1205 H796"/><text class="t" x="751" y="1198">查找文件</text></g>
<g id="r102"><polygon class="r" points="799,1201 955,1201 952,1209 796,1209"/><text class="m" x="875.5" y="1205">find 查找路径 查找的标准 查找到之后的动作</text></g>
<g id="g24"><rect class="g" x="965" y="1201" width="63" height="8"/><text class="m" x="996.5" y="1205">-name -size +2M</text></g>
<g id="g25"><rect class="g" x="1039" y="1201" width="148" height="8"/><text class="m" x="1113" y="1205" style="letter-spacing:0.2px">-print -ls -delete -ok/exec command {} \;</text></g>
<g id="fd-cp"><path class="u" d="M745,1226 H786"/><text class="t" x="751" y="1219">拷贝文件</text></g>
<g id="r103"><polygon class="r" points="799,1222 819,1222 816,1230 796,1230"/><text class="m" x="807.5" y="1226">cp</text></g>
<g id="g26"><rect class="g" x="829" y="1222" width="58" height="8"/><text class="m" x="858" y="1226">-a -f -i -r -v</text></g>
<g id="fd-mv"><path class="u" d="M745,1246 H786"/><text class="t" x="751" y="1239">移动文件</text></g>
<g id="r104"><polygon class="r" points="799,1243 819,1243 816,1251 796,1251"/><text class="m" x="807.5" y="1247">mv</text></g>
<g id="g27"><rect class="g" x="829" y="1243" width="37" height="8"/><text class="m" x="847.5" y="1247">-f -i -v</text></g>
<g id="fd-tar"><path class="u" d="M745,1268 H786"/><text class="t" x="751" y="1261">打包压缩</text></g>
<g id="r105"><polygon class="r" points="799,1258 902,1258 899,1266 796,1266"/><text class="m" x="849" y="1262">tar [选项] 打包文件名 文件</text></g>
<g id="g28"><rect class="g" x="912" y="1258" width="40" height="8"/><text class="m" x="932" y="1262">-cvf -xvf</text></g>
<g id="r106"><polygon class="r" points="799,1268 937,1268 934,1277 796,1277"/><text class="m" x="866.5" y="1272.5">gzip(-zcvf -zxvf) bzip2(-jcvf -jxvf)</text></g>
<g id="fd-zip"><path class="u" d="M745,1293 H806"/><text class="t" x="751" y="1286">zip文件加解压</text></g>
<g id="r107"><polygon class="r" points="818,1284 959,1284 956,1292 815,1292"/><text class="m" x="887" y="1288">zip [-r] 目标文件（没扩展名） 源文件</text></g>
<g id="r108"><polygon class="r" points="818,1294 941,1294 938,1302 815,1302"/><text class="m" x="878" y="1298">unzip -d 解压后目录文件 压缩文件</text></g>
<g id="fd-which"><path class="u" d="M745,1317 H806"/><text class="t" x="751" y="1310">查看命令位置</text></g>
<g id="r109"><polygon class="r" points="815,1314 845,1314 842,1322 812,1322"/><text class="m" x="828.5" y="1318">which</text></g>

<text x="1003" y="1522" font-family="Noto Sans CJK SC,sans-serif" font-size="16.5" fill="#a8a8a8">@稀土掘金技术社区</text>
</g>
</svg>
